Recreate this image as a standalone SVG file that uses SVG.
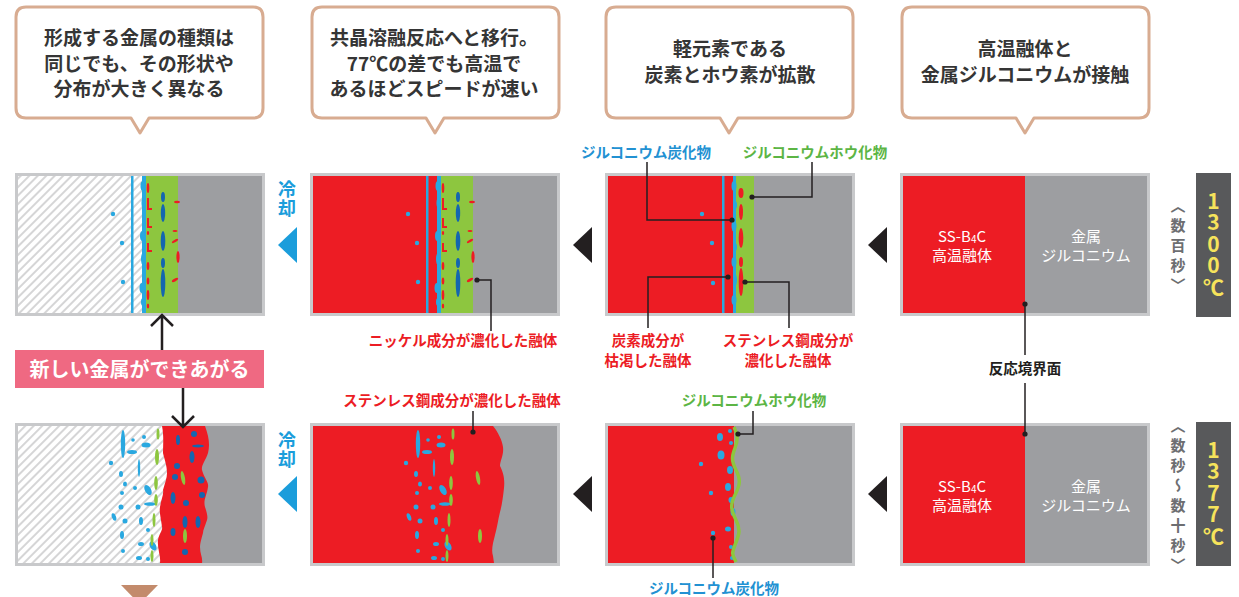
<svg xmlns="http://www.w3.org/2000/svg" width="1239" height="597" viewBox="0 0 1239 597">
<defs>
<style>
text{font-family:"Noto Sans CJK JP","Noto Sans CJK SC",sans-serif}
.frame{fill:#c8c9cb}
.red{fill:#ed1c24}
.gray{fill:#9d9ea1}
.grn{fill:#8dc63f}
.lb{fill:#29a8e0}
.db{fill:#1466b0}
.hatch{fill:url(#hatch)}
.bubble{fill:#fff;stroke:#d8ac91;stroke-width:3;stroke-linejoin:round}
.bt{font-weight:700;font-size:19px;fill:#353535;text-anchor:middle}
.lbl{font-weight:700;font-size:14.5px;text-anchor:middle}
.tr{fill:#ec1c24}
.tb{fill:#2291d2}
.tg{fill:#5cb545}
.tk{fill:#231f20}
.lead{fill:none;stroke:#231f20;stroke-width:1.5}
.dot{fill:#231f20}
.wt{font-size:15px;fill:#fff;text-anchor:middle}
.cool{font-weight:700;font-size:18px;fill:#1b9ddb;writing-mode:vertical-rl;letter-spacing:1px}
.vt{font-weight:700;font-size:15px;fill:#6d6e71;writing-mode:vertical-rl;letter-spacing:5px}
.yt{font-weight:700;font-size:21px;fill:#f6e35b;writing-mode:vertical-rl;text-orientation:upright;letter-spacing:0.5px}
.tri{fill:#231f20}
.btri{fill:#1b9ddb}
.arr{fill:none;stroke:#231f20;stroke-width:2.5}
</style>
<pattern id="hatch" patternUnits="userSpaceOnUse" width="6" height="6" patternTransform="rotate(45)">
<rect width="6" height="6" fill="#fff"/>
<rect width="2" height="6" fill="#d5d5d6"/>
</pattern>

<!-- upper row reaction zone: carbide line, boride layer, metal -->
<g id="zoneA">
<rect class="lb" x="131" y="176" width="2.5" height="137"/>
<rect class="grn" x="146" y="176" width="32" height="137"/>
<rect class="gray" x="178" y="176" width="84" height="137"/>
<rect class="lb" x="142" y="176" width="4" height="137"/>
<ellipse class="lb" cx="143" cy="186" rx="2.5" ry="5"/>
<ellipse class="lb" cx="143.5" cy="203" rx="2" ry="5"/>
<ellipse class="lb" cx="142.5" cy="236" rx="2.5" ry="5"/>
<ellipse class="lb" cx="143" cy="259" rx="2" ry="6"/>
<ellipse class="lb" cx="142" cy="288" rx="2.5" ry="5"/>
<ellipse class="lb" cx="143" cy="302" rx="2" ry="4"/>
<ellipse class="red" cx="148" cy="188" rx="1.3" ry="5"/>
<rect class="red" x="147" y="198" width="2" height="12"/>
<rect class="red" x="147" y="208" width="5" height="2"/>
<rect class="red" x="147" y="218" width="2" height="10"/>
<rect class="red" x="147" y="226" width="5" height="2"/>
<ellipse class="red" cx="148" cy="233" rx="1.2" ry="2"/>
<rect class="red" x="147" y="243" width="2" height="9"/>
<rect class="red" x="147" y="250" width="5" height="2"/>
<ellipse class="red" cx="148" cy="266" rx="1.3" ry="4"/>
<ellipse class="red" cx="148" cy="281" rx="1.3" ry="3.5"/>
<ellipse class="red" cx="148" cy="295" rx="1.3" ry="5"/>
<ellipse class="red" cx="148" cy="306" rx="1.2" ry="2.5"/>
<ellipse class="db" cx="163" cy="197" rx="2" ry="5"/>
<ellipse class="db" cx="163" cy="213" rx="2.2" ry="9"/>
<ellipse class="db" cx="163" cy="241" rx="2.3" ry="10"/>
<ellipse class="db" cx="163" cy="263" rx="2" ry="5"/>
<ellipse class="db" cx="163" cy="283" rx="2.3" ry="14"/>
<ellipse class="red" cx="177" cy="202" rx="3" ry="1.3"/>
<ellipse class="red" cx="175" cy="231" rx="2.5" ry="1"/>
<ellipse class="red" cx="175" cy="241" rx="3.5" ry="1.2" transform="rotate(-30 175 241)"/>
<ellipse class="red" cx="178" cy="257" rx="1.6" ry="6"/>
<ellipse class="red" cx="175" cy="280" rx="3.5" ry="1.3" transform="rotate(-30 175 280)"/>
<circle class="lb" cx="113" cy="214" r="2.2"/>
<circle class="lb" cx="122" cy="243" r="2.2"/>
<circle class="lb" cx="123" cy="282" r="2.2"/>
</g>

<!-- lower row: scattered carbide and boride grains -->
<g id="mixB">
<ellipse class="lb" cx="123" cy="444" rx="2.2" ry="14"/>
<circle class="lb" cx="133" cy="440" r="1.8"/>
<circle class="lb" cx="144" cy="437" r="2"/>
<ellipse class="lb" cx="146" cy="445" rx="4.5" ry="2.5"/>
<ellipse class="lb" cx="132" cy="452" rx="5" ry="2"/>
<circle class="lb" cx="111" cy="463" r="2.2"/>
<ellipse class="lb" cx="139" cy="468" rx="1.2" ry="9"/>
<ellipse class="lb" cx="121" cy="474" rx="2" ry="3"/>
<ellipse class="lb" cx="125" cy="484" rx="2" ry="2.5"/>
<circle class="lb" cx="122" cy="493" r="2"/>
<circle class="lb" cx="135" cy="488" r="2"/>
<ellipse class="lb" cx="148" cy="490" rx="3" ry="5.5" transform="rotate(-30 148 490)"/>
<ellipse class="lb" cx="150" cy="504" rx="6" ry="1.8"/>
<circle class="lb" cx="121" cy="507" r="2.5"/>
<circle class="lb" cx="138" cy="507" r="2.5"/>
<ellipse class="lb" cx="114" cy="517" rx="2" ry="4" transform="rotate(-20 114 517)"/>
<circle class="lb" cx="125" cy="521" r="2.5"/>
<ellipse class="lb" cx="141" cy="521" rx="2" ry="4"/>
<circle class="lb" cx="148" cy="530" r="2"/>
<ellipse class="lb" cx="122" cy="535" rx="2" ry="4"/>
<ellipse class="lb" cx="141" cy="544" rx="3" ry="2"/>
<ellipse class="lb" cx="153" cy="546" rx="3" ry="5" transform="rotate(-30 153 546)"/>
<circle class="lb" cx="123" cy="551" r="2"/>
<ellipse class="lb" cx="139" cy="558" rx="3" ry="2"/>
<circle class="lb" cx="148" cy="559" r="2"/>
<ellipse class="grn" cx="158" cy="434" rx="1.5" ry="5.5"/>
<ellipse class="grn" cx="157" cy="457" rx="2" ry="8"/>
<ellipse class="grn" cx="156" cy="483" rx="1.8" ry="7"/>
<ellipse class="grn" cx="156" cy="500" rx="1.8" ry="6"/>
<ellipse class="grn" cx="154" cy="520" rx="1.5" ry="7"/>
<ellipse class="grn" cx="152" cy="540" rx="1.5" ry="6"/>
<ellipse class="grn" cx="152" cy="556" rx="1.5" ry="6"/>
<ellipse class="grn" cx="183" cy="478" rx="2" ry="7" transform="rotate(-10 183 478)"/>
<ellipse class="grn" cx="185" cy="536" rx="2" ry="7"/>
</g>
</defs>

<rect width="1239" height="597" fill="#fff"/>

<!-- speech bubbles -->
<g id="bubble-1">
<path class="bubble" d="M26,7 H253 Q263,7 263,17 V108 Q263,118 253,118 H149 L140,133 L131,118 H26 Q16,118 16,108 V17 Q16,7 26,7 Z"/>
<text class="bt" x="139" y="45">形成する金属の種類は</text>
<text class="bt" x="139" y="71">同じでも、その形状や</text>
<text class="bt" x="139" y="96">分布が大きく異なる</text>
</g>
<g id="bubble-2">
<path class="bubble" d="M322,7 H549 Q559,7 559,17 V108 Q559,118 549,118 H444 L435,133 L426,118 H322 Q312,118 312,108 V17 Q312,7 322,7 Z"/>
<text class="bt" x="434" y="45">共晶溶融反応へと移行。</text>
<text class="bt" x="434" y="71">77℃の差でも高温で</text>
<text class="bt" x="434" y="96">あるほどスピードが速い</text>
</g>
<g id="bubble-3">
<path class="bubble" d="M616,7 H843 Q853,7 853,17 V108 Q853,118 843,118 H738 L729,133 L720,118 H616 Q606,118 606,108 V17 Q606,7 616,7 Z"/>
<text class="bt" x="730" y="56">軽元素である</text>
<text class="bt" x="730" y="82">炭素とホウ素が拡散</text>
</g>
<g id="bubble-4">
<path class="bubble" d="M912,7 H1139 Q1149,7 1149,17 V108 Q1149,118 1139,118 H1034 L1025,133 L1016,118 H912 Q902,118 902,108 V17 Q902,7 912,7 Z"/>
<text class="bt" x="1025" y="56">高温融体と</text>
<text class="bt" x="1025" y="82">金属ジルコニウムが接触</text>
</g>

<!-- upper row, 1300 ℃ -->
<g id="panel-top-1">
<rect class="frame" x="15" y="173" width="250" height="143"/>
<rect class="hatch" x="18" y="176" width="244" height="137"/>
<use href="#zoneA"/>
</g>
<g id="panel-top-2">
<rect class="frame" x="310" y="173" width="250" height="143"/>
<rect class="red" x="313" y="176" width="244" height="137"/>
<use href="#zoneA" transform="translate(295 0)"/>
</g>
<g id="panel-top-3">
<rect class="frame" x="605" y="173" width="250" height="143"/>
<rect class="red" x="608" y="176" width="128" height="137"/>
<rect class="gray" x="754" y="176" width="98" height="137"/>
<rect class="grn" x="736" y="176" width="18" height="137"/>
<rect class="lb" x="722" y="176" width="2.5" height="137"/>
<rect class="lb" x="733" y="176" width="3" height="137"/>
<ellipse class="lb" cx="734" cy="186" rx="2.5" ry="5"/>
<ellipse class="lb" cx="735" cy="205" rx="2" ry="4"/>
<ellipse class="lb" cx="734" cy="226" rx="2.5" ry="6"/>
<ellipse class="lb" cx="735" cy="247" rx="2" ry="4"/>
<ellipse class="lb" cx="734" cy="262" rx="2.5" ry="5"/>
<ellipse class="lb" cx="735" cy="280" rx="2" ry="6"/>
<ellipse class="lb" cx="734" cy="300" rx="2.5" ry="5"/>
<ellipse class="red" cx="741" cy="193" rx="2.5" ry="5"/>
<ellipse class="red" cx="741" cy="212" rx="2" ry="8"/>
<ellipse class="red" cx="741" cy="238" rx="2.3" ry="10"/>
<ellipse class="red" cx="741" cy="262" rx="2" ry="5"/>
<ellipse class="red" cx="741" cy="282" rx="2.3" ry="14"/>
<circle class="lb" cx="702" cy="214" r="2.2"/>
<circle class="lb" cx="712" cy="243" r="2.2"/>
<circle class="lb" cx="713" cy="283" r="2.2"/>
</g>
<g id="panel-top-4">
<rect class="frame" x="900" y="173" width="250" height="143"/>
<rect class="red" x="903" y="176" width="122" height="137"/>
<rect class="gray" x="1025" y="176" width="122" height="137"/>
<text class="wt" x="962" y="242">SS-B<tspan font-size="10" dy="1">4</tspan><tspan dy="-1">C</tspan></text>
<text class="wt" x="962" y="261">高温融体</text>
<text class="wt" x="1086" y="242">金属</text>
<text class="wt" x="1086" y="261">ジルコニウム</text>
</g>

<!-- lower row, 1377 ℃ -->
<g id="panel-bottom-1">
<rect class="frame" x="15" y="423" width="250" height="143"/>
<rect class="hatch" x="18" y="426" width="244" height="137"/>
<rect class="gray" x="190" y="426" width="72" height="137"/>
<path class="red" d="M162,426 L205,426 C209,437 210,445 208,453 C206,460 201,465 202,470 C204,478 209,482 208,487 C207,495 203,500 205,507 C207,513 208,517 207,520 C205,526 203,530 203,533 C201,540 200,544 200,547 C200,554 203,558 202,563 L160,563 C161,556 157,548 158,540 C159,534 163,530 162,527 C161,518 159,512 160,507 C161,500 164,494 163,490 C165,483 167,478 167,473 C167,465 164,458 163,453 C163,445 164,436 162,426 Z"/>
<ellipse class="db" cx="178" cy="440" rx="2" ry="5"/>
<circle class="db" cx="194" cy="434" r="3"/>
<ellipse class="db" cx="198" cy="446" rx="6" ry="1.5"/>
<ellipse class="db" cx="192" cy="457" rx="2.5" ry="6"/>
<circle class="db" cx="177" cy="466" r="3"/>
<circle class="db" cx="175" cy="477" r="3"/>
<circle class="db" cx="201" cy="480" r="3.5"/>
<ellipse class="db" cx="173" cy="498" rx="2.5" ry="6"/>
<circle class="db" cx="186" cy="503" r="3"/>
<circle class="db" cx="202" cy="495" r="3"/>
<ellipse class="db" cx="185" cy="522" rx="2.5" ry="6"/>
<ellipse class="db" cx="198" cy="522" rx="2.5" ry="6"/>
<ellipse class="db" cx="173" cy="532" rx="2.5" ry="4"/>
<circle class="db" cx="185" cy="552" r="3"/>
<use href="#mixB"/>
</g>
<g id="panel-bottom-2">
<rect class="frame" x="310" y="423" width="250" height="143"/>
<rect class="gray" x="313" y="426" width="244" height="137"/>
<path class="red" d="M313,426 L493,426 C498,432 502,440 503,447 C504,455 500,461 500,466 C503,472 505,478 504,488 C503,497 502,505 500,512 C498,520 497,528 495,535 C493,543 491,550 493,556 L494,563 L313,563 Z"/>
<use href="#mixB" transform="translate(295 0)"/>
</g>
<g id="panel-bottom-3">
<rect class="frame" x="605" y="423" width="250" height="143"/>
<rect class="red" x="608" y="426" width="126" height="137"/>
<rect class="gray" x="734" y="426" width="118" height="137"/>
<ellipse class="lb" cx="720" cy="437" rx="3" ry="4"/>
<circle class="lb" cx="730" cy="431" r="2"/>
<circle class="lb" cx="731" cy="443" r="2"/>
<ellipse class="lb" cx="721" cy="455" rx="3.5" ry="4.5"/>
<ellipse class="lb" cx="730" cy="470" rx="3" ry="4"/>
<ellipse class="lb" cx="728" cy="487" rx="3" ry="4"/>
<ellipse class="lb" cx="731" cy="500" rx="2.5" ry="3"/>
<ellipse class="lb" cx="733" cy="512" rx="2.5" ry="4"/>
<ellipse class="lb" cx="728" cy="529" rx="3" ry="2.5"/>
<circle class="lb" cx="731" cy="547" r="2"/>
<circle class="lb" cx="732" cy="558" r="2"/>
<path d="M734,427 C738,435 738,440 735,448 S731,460 736,470 S740,485 735,495 S731,510 736,520 S739,535 735,545 S733,555 736,562" fill="none" stroke="#8dc63f" stroke-width="3.5"/>
<circle class="lb" cx="701" cy="464" r="2.2"/>
<circle class="lb" cx="711" cy="493" r="2.2"/>
<circle class="lb" cx="713" cy="533" r="2.2"/>
</g>
<g id="panel-bottom-4">
<rect class="frame" x="900" y="423" width="250" height="143"/>
<rect class="red" x="903" y="426" width="122" height="137"/>
<rect class="gray" x="1025" y="426" width="122" height="137"/>
<text class="wt" x="962" y="492">SS-B<tspan font-size="10" dy="1">4</tspan><tspan dy="-1">C</tspan></text>
<text class="wt" x="962" y="511">高温融体</text>
<text class="wt" x="1086" y="492">金属</text>
<text class="wt" x="1086" y="511">ジルコニウム</text>
</g>

<!-- new metal label -->
<g id="new-metal">
<rect x="15" y="350" width="249" height="38" fill="#ef6982"/>
<text x="139.5" y="377" font-weight="700" font-size="20" fill="#fff" text-anchor="middle">新しい金属ができあがる</text>
</g>

<!-- cooling marks, set vertically -->
<g id="cool-top">
<text class="cool" x="287" y="180">冷却</text>
</g>
<g id="cool-bottom">
<text class="cool" x="287" y="431">冷却</text>
</g>

<!-- duration and temperature, set vertically -->
<g id="time-top">
<text class="vt" x="1178" y="197.5">〈数百秒〉</text>
</g>
<g id="temp-top">
<rect x="1196" y="173" width="35" height="144" fill="#58595b"/>
<text class="yt" x="1213.5" y="190.5">1300℃</text>
</g>
<g id="time-bottom">
<text class="vt" x="1178" y="417.5">〈数秒〜数十秒〉</text>
</g>
<g id="temp-bottom">
<rect x="1196" y="422" width="35" height="144" fill="#58595b"/>
<text class="yt" x="1213.5" y="439.5">1377℃</text>
</g>

<!-- callout labels -->
<g id="labels">
<text class="lbl tr" x="463" y="345.5">ニッケル成分が濃化した融体</text>
<text class="lbl tb" x="646" y="157.5">ジルコニウム炭化物</text>
<text class="lbl tg" x="815" y="157.5">ジルコニウムホウ化物</text>
<text class="lbl tr" x="648" y="345.5">炭素成分が</text>
<text class="lbl tr" x="648" y="365.5">枯渇した融体</text>
<text class="lbl tr" x="788" y="345.5">ステンレス鋼成分が</text>
<text class="lbl tr" x="788" y="365.5">濃化した融体</text>
<text class="lbl tk" x="1025" y="373.5">反応境界面</text>
<text class="lbl tr" x="452" y="405.5">ステンレス鋼成分が濃化した融体</text>
<text class="lbl tg" x="754" y="405.5">ジルコニウムホウ化物</text>
<text class="lbl tb" x="714" y="593.5">ジルコニウム炭化物</text>
</g>

<!-- connectors: leaders, arrows, step markers -->
<g id="connectors">
<path class="lead" d="M477,280 H491 V331"/>
<circle class="dot" cx="477" cy="280" r="2.6"/>
<path class="lead" d="M647,162 V220 H732"/>
<circle class="dot" cx="732" cy="220" r="2.6"/>
<path class="lead" d="M812,162 V197 H752"/>
<circle class="dot" cx="752" cy="197" r="2.6"/>
<path class="lead" d="M728,277 H648 V328"/>
<circle class="dot" cx="728" cy="277" r="2.6"/>
<path class="lead" d="M745,282 H789 V328"/>
<circle class="dot" cx="745" cy="282" r="2.6"/>
<path class="lead" d="M1025,304 V355"/>
<circle class="dot" cx="1025" cy="304" r="2.6"/>
<path class="lead" d="M1025,383 V434"/>
<circle class="dot" cx="1025" cy="434" r="2.6"/>
<path class="lead" d="M473,411 V432"/>
<circle class="dot" cx="473" cy="432" r="2.6"/>
<path class="lead" d="M753,411 V434 H738"/>
<circle class="dot" cx="738" cy="434" r="2.6"/>
<path class="lead" d="M713,538 V578"/>
<circle class="dot" cx="713" cy="538" r="2.6"/>

<path class="arr" d="M162,350 V315 M151,326 L162,315 L173,326"/>
<path class="arr" d="M183,388 V427 M172,416 L183,427 L194,416"/>

<polygon class="tri" points="573,245 592,227 592,263"/>
<polygon class="tri" points="868,245 887,227 887,263"/>
<polygon class="tri" points="573,494 592,476 592,512"/>
<polygon class="tri" points="868,494 887,476 887,512"/>
<polygon class="btri" points="278,245 297,227 297,263"/>
<polygon class="btri" points="278,494 297,476 297,512"/>
<polygon points="121,585 158,585 139.5,604" fill="#c38b6c"/>
</g>
</svg>
